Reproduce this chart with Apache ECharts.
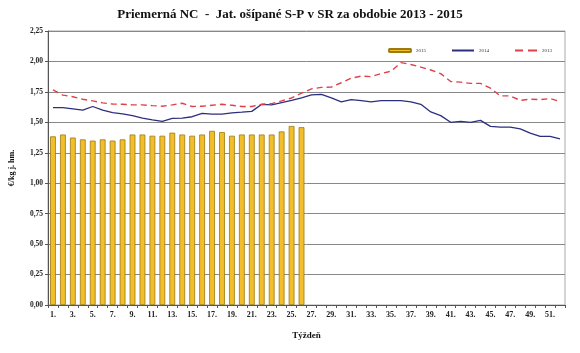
<!DOCTYPE html>
<html>
<head>
<meta charset="utf-8">
<script src="https://cdn.jsdelivr.net/npm/echarts@6/dist/echarts.min.js"></script>
<style>
html, body { margin: 0; padding: 0; background: #fff; }
#chart { width: 580px; height: 353px; }
</style>
</head>
<body>
<div id="chart"></div>
<script>
// tyzdne 1..52
var weeks = [];
for (var w = 1; w <= 52; w++) weeks.push(w + '.');

// 2015 - stlpce (len 26 tyzdnov)
var data2015 = [1.385, 1.40, 1.375, 1.36, 1.35, 1.36, 1.35, 1.36, 1.40, 1.40,
    1.39, 1.39, 1.415, 1.40, 1.39, 1.40, 1.43, 1.42, 1.39, 1.40,
    1.40, 1.40, 1.40, 1.425, 1.47, 1.46];

// 2014 - plna ciara
var data2014 = [1.62, 1.62, 1.61, 1.60, 1.63, 1.60, 1.58, 1.57, 1.555, 1.535,
    1.52, 1.508, 1.533, 1.535, 1.546, 1.574, 1.568, 1.568, 1.577, 1.583,
    1.59, 1.648, 1.643, 1.662, 1.68, 1.70, 1.725, 1.73, 1.70, 1.668,
    1.687, 1.678, 1.668, 1.678, 1.678, 1.678, 1.668, 1.648, 1.585, 1.555,
    1.50, 1.508, 1.50, 1.516, 1.467, 1.46, 1.46, 1.447, 1.412, 1.385,
    1.385, 1.365];

// 2013 - prerusovana ciara
var data2013 = [1.767, 1.723, 1.71, 1.69, 1.676, 1.66, 1.65, 1.648, 1.643, 1.643,
    1.637, 1.632, 1.643, 1.657, 1.63, 1.632, 1.64, 1.648, 1.64, 1.63,
    1.63, 1.648, 1.654, 1.676, 1.70, 1.739, 1.775, 1.787, 1.79, 1.825,
    1.862, 1.88, 1.875, 1.90, 1.92, 1.99, 1.975, 1.953, 1.93, 1.90,
    1.835, 1.83, 1.82, 1.82, 1.78, 1.717, 1.717, 1.68, 1.69, 1.687,
    1.695, 1.67];

var serif = '"Liberation Serif", "DejaVu Serif", serif';

var myChart = echarts.init(document.getElementById('chart'));

var option = {
    animation: false,
    backgroundColor: '#fff',
    title: {
        text: 'Priemerná NC  -  Jat. ošípané S-P v SR za obdobie 2013 - 2015',
        left: 'center',
        top: 3,
        textStyle: { fontFamily: serif, fontSize: 13, fontWeight: 'bold', color: '#111' }
    },
    legend: {
        left: 383,
        top: 43,
        itemWidth: 22,
        itemHeight: 3,
        itemGap: 26,
        textStyle: { fontFamily: serif, fontSize: 5, color: '#333' },
        data: [
            { name: '2015', icon: 'roundRect' },
            { name: '2014', icon: 'path://M0,0 L22,0 L22,2 L0,2 Z' },
            { name: '2013', icon: 'path://M0,0 L8,0 L8,2 L0,2 Z M13,0 L22,0 L22,2 L13,2 Z' }
        ]
    },
    grid: {
        left: 44,
        right: 15,
        top: 31,
        bottom: 48,
        show: true,
        borderColor: '#aaa',
        borderWidth: 1
    },
    xAxis: {
        type: 'category',
        data: weeks,
        name: 'Týždeň',
        nameLocation: 'middle',
        nameGap: 26,
        nameTextStyle: { fontFamily: serif, fontSize: 9, fontWeight: 'bold', color: '#111' },
        axisLine: { lineStyle: { color: '#555' } },
        axisTick: { show: true, alignWithLabel: false, interval: 0, length: 3, lineStyle: { color: '#555' } },
        axisLabel: {
            interval: 1,
            margin: 6,
            fontFamily: serif,
            fontSize: 8,
            fontWeight: 'bold',
            color: '#222'
        }
    },
    yAxis: {
        type: 'value',
        min: 0,
        max: 2.25,
        interval: 0.25,
        name: '€/kg j. hm.',
        nameLocation: 'middle',
        nameGap: 32,
        nameTextStyle: { fontFamily: serif, fontSize: 8, fontWeight: 'bold', color: '#111' },
        axisLine: { show: true, lineStyle: { color: '#555' } },
        axisTick: { show: true, length: 3, lineStyle: { color: '#555' } },
        splitLine: { lineStyle: { color: '#888', width: 1 } },
        axisLabel: {
            fontFamily: serif,
            fontSize: 7.5,
            fontWeight: 'bold',
            color: '#222',
            margin: 5,
            formatter: function (v) { return v.toFixed(2).replace('.', ','); }
        }
    },
    series: [
        {
            name: '2015',
            type: 'bar',
            data: data2015,
            barWidth: '58%',
            itemStyle: { color: '#F2BE2C', borderColor: '#9C7A10', borderWidth: 0.8 }
        },
        {
            name: '2014',
            type: 'line',
            data: data2014,
            symbol: 'none',
            itemStyle: { color: '#2B2F7E' },
            lineStyle: { color: '#2B2F7E', width: 1.3 }
        },
        {
            name: '2013',
            type: 'line',
            data: data2013,
            symbol: 'none',
            itemStyle: { color: '#E0404A' },
            lineStyle: { color: '#E0404A', width: 1.4, type: [6, 4] }
        }
    ]
};

myChart.setOption(option);
</script>
</body>
</html>
